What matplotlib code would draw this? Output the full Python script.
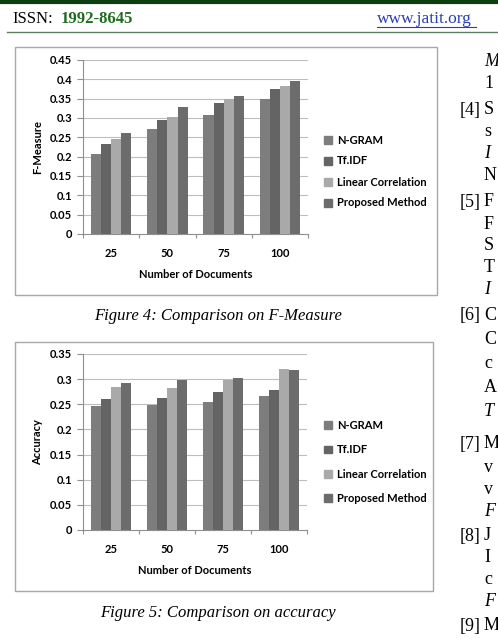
import numpy as np
import matplotlib.pyplot as plt
from matplotlib.patches import Rectangle, Patch
from matplotlib.lines import Line2D

# chart data
docs = ["25", "50", "75", "100"]
methods = ["N-GRAM", "Tf.IDF", "Linear Correlation", "Proposed Method"]
fmeasure_ngram = [0.207, 0.272, 0.307, 0.350]
fmeasure_tfidf = [0.234, 0.294, 0.340, 0.375]
fmeasure_linear = [0.246, 0.303, 0.348, 0.382]
fmeasure_proposed = [0.261, 0.328, 0.356, 0.396]
accuracy_ngram = [0.246, 0.248, 0.255, 0.267]
accuracy_tfidf = [0.261, 0.262, 0.274, 0.279]
accuracy_linear = [0.285, 0.282, 0.299, 0.320]
accuracy_proposed = [0.293, 0.299, 0.303, 0.319]
fm_ticks = ["0", "0.05", "0.1", "0.15", "0.2", "0.25", "0.3", "0.35", "0.4", "0.45"]
acc_ticks = ["0", "0.05", "0.1", "0.15", "0.2", "0.25", "0.3", "0.35"]

colors = ["#7d7d7d", "#646464", "#a9a9a9", "#6c6c6c"]
W, H = 498, 638
chart_font = "Lato"
fs = 8

fig = plt.figure(figsize=(W / 100, H / 100), dpi=100)


def fx(x):
    return x / W


def fy(y):
    return 1 - y / H


def rect(l, t, r, b):
    return [fx(l), fy(b), fx(r) - fx(l), fy(t) - fy(b)]


def bar_chart(pos, series, ticks, ylabel, ylabel_y, legend_y, spacing):
    ax = fig.add_axes(rect(*pos))
    x = np.arange(len(docs))
    w = 0.18
    for i, vals in enumerate(series):
        ax.bar(x + (i - 1.5) * w, vals, w, color=colors[i], zorder=3)
    vals_t = [float(t) for t in ticks]
    ax.set_ylim(0, vals_t[-1])
    ax.set_yticks(vals_t)
    ax.set_yticklabels(ticks, fontfamily=chart_font, fontweight="bold", fontsize=fs)
    ax.grid(axis="y", color="#bdbdbd", linewidth=0.8, zorder=0)
    ax.set_xlim(-0.5, len(docs) - 0.5)
    ax.set_xticks(np.arange(len(docs) + 1) - 0.5)
    ax.set_xticklabels([])
    ax.set_xticks(x, minor=True)
    ax.set_xticklabels(docs, minor=True, fontfamily=chart_font, fontweight="bold", fontsize=fs)
    ax.tick_params(axis="x", which="minor", length=0, pad=10)
    ax.tick_params(axis="x", which="major", length=3, color="#909090", width=0.8)
    ax.tick_params(axis="y", length=4, color="#909090", width=0.8, pad=4)
    for s in ["top", "right"]:
        ax.spines[s].set_visible(False)
    for s in ["left", "bottom"]:
        ax.spines[s].set_color("#909090")
        ax.spines[s].set_linewidth(0.8)
    ax.set_xlabel("Number of Documents", fontfamily=chart_font, fontweight="bold", fontsize=fs, labelpad=7)
    fig.text(fx(38), fy(ylabel_y), ylabel, rotation=90, ha="center", va="center",
             fontfamily=chart_font, fontweight="bold", fontsize=fs)
    handles = [Patch(color=c) for c in colors]
    fig.legend(handles, methods, loc="center left", bbox_to_anchor=(fx(324), fy(legend_y)),
               frameon=False, borderpad=0, borderaxespad=0, handlelength=0.7, handleheight=0.7,
               handletextpad=0.5, labelspacing=spacing,
               prop={"family": chart_font, "weight": "bold", "size": fs})
    return ax


# boxes around charts
fig.patches.append(Rectangle((fx(15), fy(295)), fx(437) - fx(15), fy(47) - fy(295),
                             transform=fig.transFigure, fill=False, edgecolor="#a8a8a8", linewidth=1))
fig.patches.append(Rectangle((fx(15), fy(591)), fx(433) - fx(15), fy(342) - fy(591),
                             transform=fig.transFigure, fill=False, edgecolor="#a8a8a8", linewidth=1))

bar_chart((83, 60, 308, 234), [fmeasure_ngram, fmeasure_tfidf, fmeasure_linear, fmeasure_proposed],
          fm_ticks, "F-Measure", 147, 171.5, 0.9)
bar_chart((83, 354, 307, 530), [accuracy_ngram, accuracy_tfidf, accuracy_linear, accuracy_proposed],
          acc_ticks, "Accuracy", 442, 462, 1.2)

# page header
fig.add_artist(Line2D([0, 1], [fy(1.5), fy(1.5)], color="#0e3d12", linewidth=3))
fig.add_artist(Line2D([fx(7), 1], [fy(32), fy(32)], color="#5f7d60", linewidth=1))
fig.text(fx(12), fy(19), "ISSN:", family="Liberation Serif", fontsize=12, va="center")
fig.text(fx(61), fy(19), "1992-8645", family="Liberation Serif", fontsize=12, va="center",
         fontweight="bold", color="#1e6b1e")
fig.text(fx(377), fy(19), "www.jatit.org", family="Liberation Serif", fontsize=12.5, va="center",
         color="#2a3fb5")
fig.add_artist(Line2D([fx(377), fx(476)], [fy(27), fy(27)], color="#2a3fb5", linewidth=0.8))

# captions
fig.text(fx(218), fy(316), "Figure 4: Comparison on F-Measure", family="Liberation Serif",
         style="italic", fontsize=12, ha="center", va="center")
fig.text(fx(218), fy(613), "Figure 5: Comparison on accuracy", family="Liberation Serif",
         style="italic", fontsize=12, ha="center", va="center")

# right column (reference list, cut off at the page edge)
col = [("", "M", 62, True), ("", "1", 84, False), ("[4]", "S", 110, False), ("", "s", 132, False),
       ("", "I", 154, True), ("", "N", 176, False), ("[5]", "F", 202, False), ("", "F", 224, False),
       ("", "S", 246, False), ("", "T", 268, False), ("", "I", 290, True), ("[6]", "C", 316, False),
       ("", "C", 340, False), ("", "c", 364, False), ("", "A", 388, False), ("", "T", 412, True),
       ("[7]", "M", 444, False), ("", "v", 467, False), ("", "v", 490, False), ("", "F", 512, True),
       ("[8]", "J", 536, False), ("", "I", 558, False), ("", "c", 580, False), ("", "F", 602, True),
       ("[9]", "M", 626, False)]
for num, letter, y, ital in col:
    if num:
        fig.text(fx(460), fy(y), num, family="Liberation Serif", fontsize=13, va="center")
    fig.text(fx(484), fy(y), letter, family="Liberation Serif", fontsize=13, va="center",
             style="italic" if ital else "normal")

fig.savefig("out.png", dpi=100)
